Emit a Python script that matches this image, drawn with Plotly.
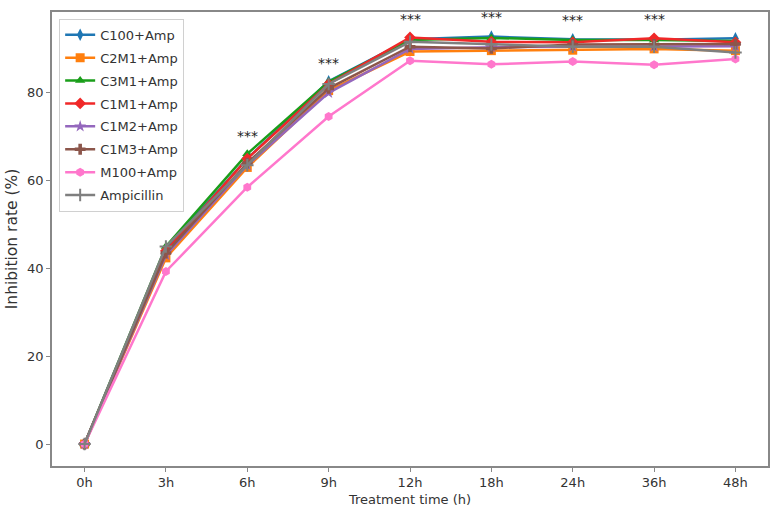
import plotly.graph_objects as go

times = ["0h", "3h", "6h", "9h", "12h", "18h", "24h", "36h", "48h"]

series_names = ["C100+Amp", "C2M1+Amp", "C3M1+Amp", "C1M1+Amp",
                "C1M2+Amp", "C1M3+Amp", "M100+Amp", "Ampicillin"]

c100_amp = [0, 44.5, 65.0, 82.6, 92.2, 92.8, 92.2, 92.1, 92.4]
c2m1_amp = [0, 42.4, 63.0, 80.5, 89.4, 89.6, 89.7, 90.0, 89.6]
c3m1_amp = [0, 45.0, 66.1, 82.5, 92.0, 92.5, 92.0, 92.0, 91.8]
c1m1_amp = [0, 44.0, 65.0, 82.0, 92.6, 91.6, 91.5, 92.4, 91.5]
c1m2_amp = [0, 43.0, 63.5, 80.0, 90.0, 90.4, 90.5, 90.5, 90.6]
c1m3_amp = [0, 43.5, 64.0, 81.0, 90.5, 90.1, 91.0, 91.0, 91.1]
m100_amp = [0, 39.3, 58.5, 74.6, 87.3, 86.5, 87.1, 86.4, 87.7]
ampicillin = [0, 45.0, 63.5, 82.0, 91.6, 91.0, 90.5, 90.5, 89.2]

values = [c100_amp, c2m1_amp, c3m1_amp, c1m1_amp, c1m2_amp, c1m3_amp, m100_amp, ampicillin]
colors = ["#1f77b4", "#ff7f0e", "#1a9e1a", "#f02828", "#9467bd", "#8c564b", "#ff77cc", "#7f7f7f"]
symbols = ["diamond-tall", "square", "triangle-up", "diamond", "star", "cross", "hexagon", "cross-thin"]

sig_times = ["6h", "9h", "12h", "18h", "24h", "36h"]
sig_y = [70.2, 86.8, 96.8, 97.3, 96.6, 96.8]
sig_text = "***"

fig = go.Figure()
for name, vals, col, sym in zip(series_names, values, colors, symbols):
    fig.add_trace(go.Scatter(
        x=times, y=vals, name=name, mode="lines+markers", legendgroup=name,
        line=dict(color=col, width=2.5),
        marker=dict(symbol=sym, size=9, color=col,
                    line=dict(color=col, width=2 if sym == "cross-thin" else 0)),
    ))

for t, yv in zip(sig_times, sig_y):
    fig.add_annotation(x=t, y=yv, text=sig_text, showarrow=False,
                       font=dict(size=14, color="#222222"), xref="x", yref="y")

axis_common = dict(showline=True, linecolor="#888888", linewidth=1.5, mirror=True,
                   ticks="outside", ticklen=4, tickcolor="#888888",
                   showgrid=False, zeroline=False,
                   tickfont=dict(family="DejaVu Sans", size=13, color="#333333"))

fig.update_layout(
    width=781, height=520,
    margin=dict(l=50, r=13, t=10, b=54),
    plot_bgcolor="white", paper_bgcolor="white",
    font=dict(family="DejaVu Sans", size=13, color="#333333"),
    xaxis=dict(axis_common, type="category", range=[-0.4, 8.4],
               title=dict(text="Treatment time (h)", font=dict(size=13), standoff=6)),
    yaxis=dict(axis_common, range=[-5, 98.4], tickvals=[0, 20, 40, 60, 80],
               title=dict(text="Inhibition rate (%)", font=dict(size=15.5), standoff=6)),
    legend=dict(x=0.01, y=0.985, xanchor="left", yanchor="top",
                bgcolor="rgba(255,255,255,0.9)", bordercolor="#d0d0d0", borderwidth=1,
                font=dict(family="DejaVu Sans", size=13, color="#333333"),
                tracegroupgap=3),
    showlegend=True,
)

fig.write_html("out.html")
